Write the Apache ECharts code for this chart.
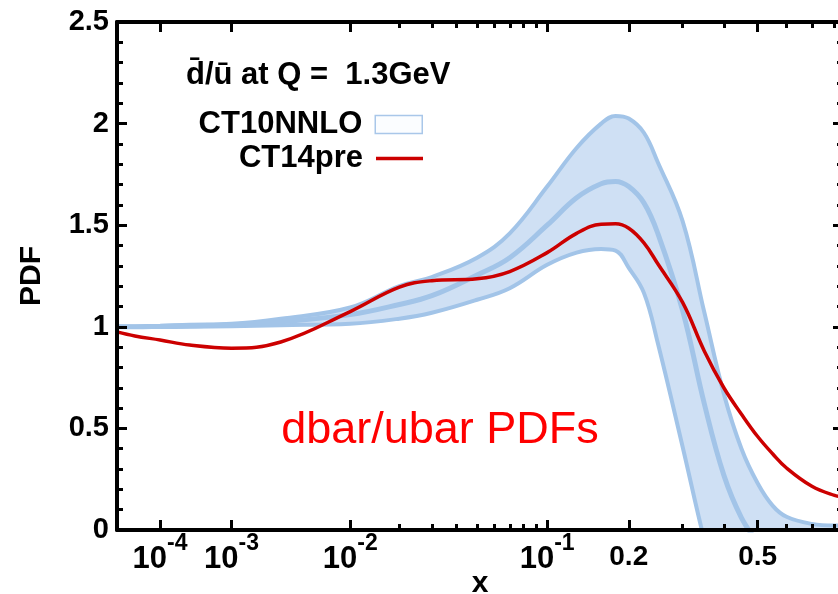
<!DOCTYPE html>
<html><head><meta charset="utf-8">
<script src="https://cdn.jsdelivr.net/npm/echarts@6/dist/echarts.min.js"></script>
<style>html,body{margin:0;padding:0;background:#fff}#c{width:838px;height:594px}</style>
</head><body><div id="c"></div>
<script>
// ---- data ----
const xVals = [1e-5, 3e-5, 1e-4, 3e-4, 1e-3, 3e-3, 0.01, 0.02, 0.03, 0.05, 0.07, 0.1, 0.13, 0.16, 0.18, 0.2, 0.225, 0.25, 0.3, 0.35, 0.4, 0.45, 0.5, 0.55, 0.6, 0.7, 0.8, 0.84];
const ct14pre    = [0.975, 0.955, 0.935, 0.91, 0.895, 0.925, 1.075, 1.195, 1.227, 1.236, 1.272, 1.365, 1.46, 1.505, 1.507, 1.485, 1.413, 1.31, 1.12, 0.88, 0.70, 0.57, 0.46, 0.375, 0.305, 0.215, 0.17, 0.163];
const ct10Central= [1.0, 1.0, 1.002, 1.005, 1.01, 1.025, 1.06, 1.11, 1.153, 1.255, 1.34, 1.50, 1.635, 1.704, 1.715, 1.69, 1.61, 1.46, 1.08, 0.62, 0.27, 0.06, -0.06, -0.15, -0.2, -0.25, -0.3, -0.3];
const ct10Upper  = [1.0, 1.002, 1.005, 1.01, 1.015, 1.04, 1.095, 1.2, 1.245, 1.34, 1.46, 1.69, 1.88, 2.0, 2.038, 2.025, 1.955, 1.81, 1.52, 1.07, 0.67, 0.40, 0.23, 0.12, 0.065, 0.03, 0.022, 0.022];
const ct10Lower  = [1.0, 0.999, 0.999, 1.0, 1.003, 1.008, 1.015, 1.04, 1.069, 1.133, 1.19, 1.305, 1.365, 1.383, 1.375, 1.29, 1.167, 0.92, 0.41, -0.05, -0.4, -0.6, -0.7, -0.8, -0.85, -0.9, -0.9, -0.9];

const xMajorTicks  = [1e-4, 1e-3, 1e-2, 0.1, 0.2, 0.5];
const xMajorLabels = ['10^-4', '10^-3', '10^-2', '10^-1', '0.2', '0.5'];
const xMinorTicks  = [0.02, 0.03, 0.04, 0.05, 0.06, 0.07, 0.08, 0.09, 0.3, 0.4, 0.6, 0.7, 0.8];
const xRange = [1e-5, 0.84];
const yRange = [0, 2.5];
const yStep = 0.5;

// ---- x axis transform (the reference uses a power-law x scale) ----
const P = 0.22;
const tx = x => Math.pow(x, P);

const FONT = 'Liberation Sans, Arial, sans-serif';
const BAND_FILL = '#cfe0f4';
const BAND_LINE = '#a2c4e8';
const RED = '#cc0000';

const pairs = ys => xVals.map((x, i) => [tx(x), ys[i]]);

const majorT = xMajorTicks.map(tx);
const minorT = xMinorTicks.map(tx);

function xLabel(v) {
  let best = 0, bd = Infinity;
  majorT.forEach((t, i) => { const d = Math.abs(t - v); if (d < bd) { bd = d; best = i; } });
  const s = xMajorLabels[best];
  if (s.indexOf('^') >= 0) {
    const [b, e] = s.split('^');
    return '{b|' + b + '}{s|' + e + '}';
  }
  return '{d|' + s + '}';
}

const baseX = {
  type: 'value', min: tx(xRange[0]), max: tx(xRange[1]), gridIndex: 0, z: 5,
  splitLine: { show: false }, axisLabel: { show: false },
  axisLine: { show: false }, axisTick: { show: false }
};
const blackLine = { show: true, lineStyle: { color: '#000', width: 4 } };

const chart = echarts.init(document.getElementById('c'), null, { renderer: 'canvas' });
chart.setOption({
  animation: false,
  backgroundColor: '#fff',
  grid: { left: 117, top: 22, width: 726, height: 508, containLabel: false, outerBoundsMode: 'none' },
  xAxis: [
    Object.assign({}, baseX, {
      position: 'bottom',
      axisLine: blackLine,
      axisTick: { show: true, inside: true, length: 10, customValues: majorT, lineStyle: { color: '#000', width: 3 } },
      axisLabel: {
        show: true, customValues: majorT, formatter: xLabel, margin: 0,
        rich: {
          b: { fontSize: 31, fontWeight: 'bold', fontFamily: FONT, color: '#000', verticalAlign: 'top', padding: [14, 0, 0, 0] },
          s: { fontSize: 23, fontWeight: 'bold', fontFamily: FONT, color: '#000', verticalAlign: 'top', padding: [2, 0, 0, 0] },
          d: { fontSize: 28, fontWeight: 'bold', fontFamily: FONT, color: '#000', verticalAlign: 'top', padding: [13, 0, 0, 0] }
        }
      },
      name: 'x', nameLocation: 'middle', nameGap: 39, nameMoveOverlap: false,
      nameTextStyle: { fontSize: 30, fontWeight: 'bold', fontFamily: FONT, color: '#000' }
    }),
    Object.assign({}, baseX, {
      position: 'bottom',
      axisTick: { show: true, inside: true, length: 6, customValues: minorT, lineStyle: { color: '#000', width: 3 } }
    }),
    Object.assign({}, baseX, {
      position: 'top',
      axisLine: blackLine,
      axisTick: { show: true, inside: true, length: 10, customValues: majorT, lineStyle: { color: '#000', width: 3 } }
    }),
    Object.assign({}, baseX, {
      position: 'top',
      axisTick: { show: true, inside: true, length: 6, customValues: minorT, lineStyle: { color: '#000', width: 3 } }
    })
  ],
  yAxis: [
    {
      type: 'value', position: 'left', min: yRange[0], max: yRange[1], interval: yStep, z: 5,
      splitLine: { show: false },
      axisLine: blackLine,
      axisTick: { show: true, inside: true, length: 10, lineStyle: { color: '#000', width: 3 } },
      minorTick: { show: true, splitNumber: 5, length: 6, lineStyle: { color: '#000', width: 3 } },
      axisLabel: { fontSize: 29, fontWeight: 'bold', fontFamily: FONT, color: '#000', margin: 8 },
      name: 'PDF', nameLocation: 'middle', nameGap: 70, nameRotate: 90, nameMoveOverlap: false,
      nameTextStyle: { fontSize: 30, fontWeight: 'bold', fontFamily: FONT, color: '#000' }
    },
    {
      type: 'value', position: 'right', min: yRange[0], max: yRange[1], interval: yStep, z: 5,
      splitLine: { show: false },
      axisLine: blackLine,
      axisTick: { show: true, inside: true, length: 10, lineStyle: { color: '#000', width: 3 } },
      minorTick: { show: true, splitNumber: 5, length: 6, lineStyle: { color: '#000', width: 3 } },
      axisLabel: { show: false }
    }
  ],
  legend: [
    {
      data: [{ name: 'CT10NNLO', icon: 'rect', itemStyle: { color: '#fbfdff', borderColor: '#a9c7e9', borderWidth: 1.5 } }],
      right: 838 - 423, top: 109, itemWidth: 47, itemHeight: 18, align: 'right', padding: 0,
      selectedMode: false,
      textStyle: { fontSize: 31, fontWeight: 'bold', fontFamily: FONT, color: '#000', padding: [0, 8, 0, 0] }
    },
    {
      data: [{ name: 'CT14pre', icon: 'rect', itemStyle: { color: RED, borderWidth: 0 } }],
      right: 838 - 423, top: 143, itemWidth: 47, itemHeight: 3.5, align: 'right', padding: 0,
      selectedMode: false,
      textStyle: { fontSize: 31, fontWeight: 'bold', fontFamily: FONT, color: '#000', padding: [0, 8, 0, 0] }
    }
  ],
  graphic: [
    { type: 'text', x: 186, y: 75, z: 10,
      style: { text: 'd\u0304/u\u0304 at Q =  1.3GeV', font: 'bold 31px ' + FONT, fill: '#000', align: 'left', verticalAlign: 'middle' } },
    { type: 'text', x: 440, y: 431, z: 10,
      style: { text: 'dbar/ubar PDFs', font: '45px ' + FONT, fill: '#ff0000', align: 'center', verticalAlign: 'middle' } }
  ],
  series: [
    // band fill: area under the upper edge, then the area under the lower edge is painted with the background colour
    { name: 'CT10NNLO', type: 'line', data: pairs(ct10Upper), symbol: 'none', smooth: 0.4,
      lineStyle: { opacity: 0 }, itemStyle: { color: BAND_FILL },
      areaStyle: { color: BAND_FILL, opacity: 1, origin: 'start' }, z: 1 },
    { name: 'ct10cover', type: 'line', data: pairs(ct10Lower), symbol: 'none', smooth: 0.4,
      lineStyle: { opacity: 0 }, silent: true,
      areaStyle: { color: '#ffffff', opacity: 1, origin: 'start' }, z: 1 },
    { name: 'ct10lower', type: 'line', data: pairs(ct10Lower), symbol: 'none', smooth: 0.4,
      lineStyle: { color: BAND_LINE, width: 4 }, silent: true, z: 2 },
    { name: 'ct10upper', type: 'line', data: pairs(ct10Upper), symbol: 'none', smooth: 0.4,
      lineStyle: { color: BAND_LINE, width: 4 }, silent: true, z: 2 },
    { name: 'ct10central', type: 'line', data: pairs(ct10Central), symbol: 'none', smooth: 0.4,
      lineStyle: { color: BAND_LINE, width: 5 }, silent: true, z: 2 },
    { name: 'CT14pre', type: 'line', data: pairs(ct14pre), symbol: 'none', smooth: 0.4,
      itemStyle: { color: RED }, lineStyle: { color: RED, width: 3.5 }, z: 3 }
  ]
});
</script>
</body></html>
